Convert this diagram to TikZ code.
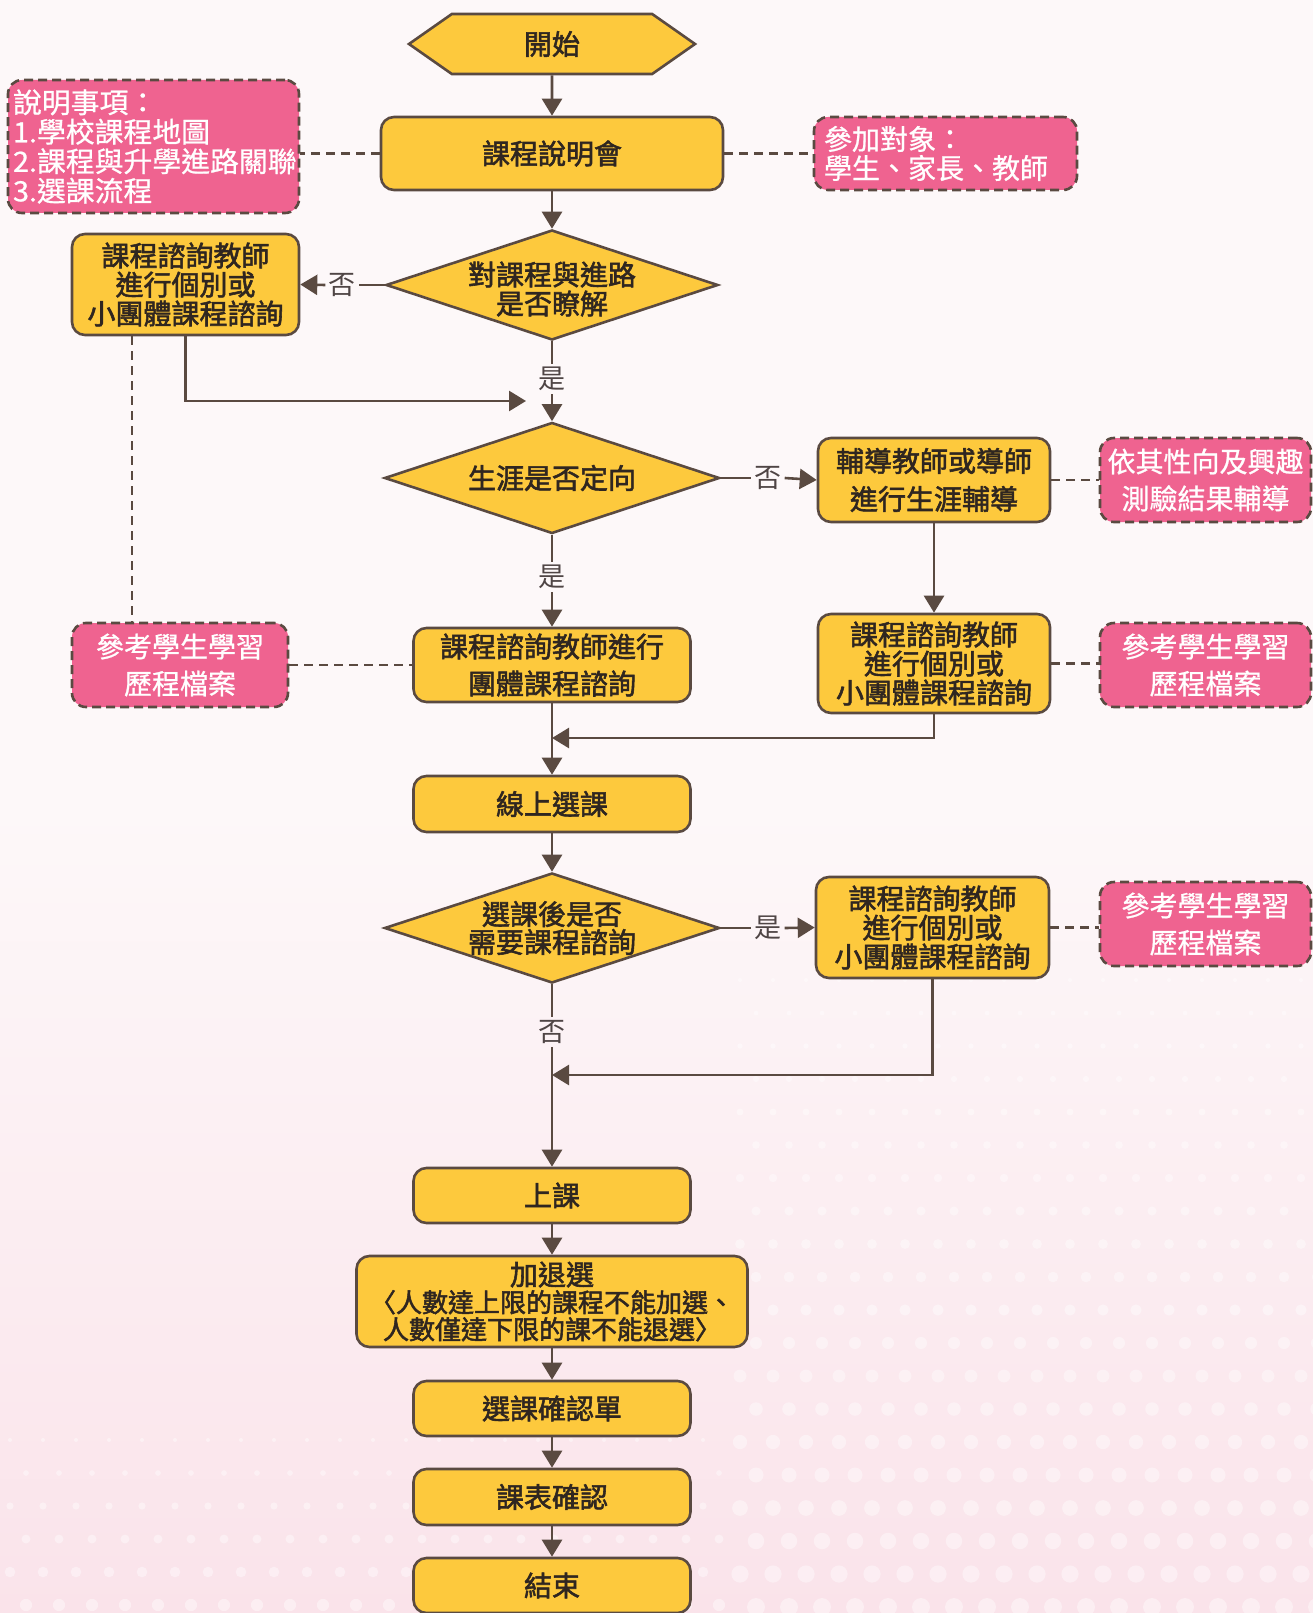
\documentclass[tikz,border=0pt]{standalone}
\usepackage{fontspec}
\setmainfont{Noto Sans CJK TC}[AutoFakeBold=2]
\newfontfamily\notefont{Noto Sans CJK TC}[FakeStretch=1.03,AutoFakeBold=0.8]
\newfontfamily\whitefont{Noto Sans CJK TC}[AutoFakeBold=0.8]
\usetikzlibrary{shapes.geometric,shapes.symbols,arrows.meta,calc}
\definecolor{ybox}{HTML}{FDC93D}
\definecolor{edgec}{HTML}{5A4A41}
\definecolor{pinkbox}{HTML}{EF6390}
\definecolor{txtc}{HTML}{2F2620}
\definecolor{lblc}{HTML}{4F4545}
\definecolor{bgA}{HTML}{F7CFDC}
\definecolor{bgB}{HTML}{FAE3EA}
\definecolor{bgC}{HTML}{FDF8F9}
\definecolor{bgD}{HTML}{FBE9EF}
\pgfdeclareverticalshading{bgshade}{100bp}{color(0bp)=(bgA); color(25bp)=(bgB); color(50bp)=(bgC); color(75bp)=(bgC); color(100bp)=(bgD)}
\tikzset{
  box/.style={draw=edgec, line width=2.6pt, fill=ybox, rounded corners=13pt,
    font=\fontsize{28}{29}\selectfont\bfseries, text=txtc, align=center, inner sep=0pt},
  notebox/.style={draw=edgec, line width=2.6pt, dash pattern=on 9pt off 5pt, fill=pinkbox,
    rounded corners=14pt, text=white, font=\whitefont\fontsize{28}{37}\selectfont\bfseries, align=center, inner sep=0pt},
  dia/.style={diamond, draw=edgec, line width=2.6pt, fill=ybox, inner sep=0pt},
  diatext/.style={font=\fontsize{28}{30}\selectfont\bfseries, text=txtc, align=center},
  arr/.style={draw=edgec, line width=2.6pt, -{Triangle[length=17pt,width=20pt]}},
  conn/.style={draw=edgec, line width=2.6pt},
  dline/.style={draw=edgec, line width=2.6pt, dash pattern=on 9pt off 6pt},
  lbl/.style={text=lblc, font=\fontsize{27}{27}\selectfont, inner sep=3pt},
  bgdot/.style={fill=white, opacity=0.4},
}
\begin{document}
\begin{tikzpicture}[x=1pt,y=-1pt]
\useasboundingbox (0,0) rectangle (1313,1613);
\shade[shading=bgshade] (0,0) rectangle (1313,1613);
% faint background dots
\foreach \i in {0,...,17} {
  \foreach \j in {0,...,19} {
    \pgfmathsetmacro{\dx}{740+\i*33+mod(\j,2)*16}
    \pgfmathsetmacro{\dy}{980+\j*33}
    \pgfmathsetmacro{\dr}{2+(\dy-980)/90}
    \fill[bgdot] (\dx,\dy) circle[radius=\dr];
  }
}
\foreach \i in {0,...,21} {
  \foreach \j in {0,...,5} {
    \pgfmathsetmacro{\dx}{10+\i*33+mod(\j,2)*16}
    \pgfmathsetmacro{\dy}{1440+\j*33}
    \pgfmathsetmacro{\dr}{2+(\dy-1440)/40}
    \fill[bgdot] (\dx,\dy) circle[radius=\dr];
  }
}

% start
\node[signal, signal to=west and east, signal pointer angle=70, draw=edgec, line width=2.6pt,
  fill=ybox, minimum width=286pt, minimum height=60pt, inner sep=0pt,
  font=\fontsize{28}{29}\selectfont\bfseries, text=txtc] (start) at (552,44) {開始};

\node[box, minimum width=342pt, minimum height=73pt] (a1) at (552,153.5) {課程說明會};

\node[notebox, minimum height=133pt, text width=281pt, inner xsep=5pt, align=left,
  font=\notefont\fontsize{28}{29.5}\selectfont\bfseries] (note1) at (153.5,146.5)
  {說明事項：\\1.學校課程地圖\\2.課程與升學進路關聯\\3.選課流程};

\node[notebox, minimum height=73pt, text width=243pt, inner xsep=10pt, align=left,
  font=\whitefont\fontsize{28}{29}\selectfont\bfseries] (note2) at (945.5,153.5)
  {參加對象：\\學生、家長、教師};

% decision 1
\node[dia, minimum width=332pt, minimum height=110pt] (d1) at (552,285) {};
\node[diatext, font=\fontsize{28}{29}\selectfont\bfseries] (d1t) at ([yshift=-4pt]d1.center) {對課程與進路\\是否瞭解};

\node[box, minimum width=227pt, minimum height=101pt] (b1) at (185.5,284.5)
  {課程諮詢教師\\進行個別或\\小團體課程諮詢};

\node[lbl] (no1) at (342,285) {否};
\node[lbl] (yes1) at (552,379) {是};
\coordinate (j1) at (526,401);

% decision 2
\node[dia, minimum width=335pt, minimum height=111pt] (d2) at (552,478) {};
\node[diatext] (d2t) at (d2.center) {生涯是否定向};

\node[box, minimum width=232pt, minimum height=84pt, font=\fontsize{28}{38}\selectfont\bfseries] (c1) at (934,480)
  {輔導教師或導師\\進行生涯輔導};
\node[lbl] (no2) at (768,478) {否};

\node[notebox, minimum width=211pt, minimum height=84pt] (note4) at (1205.5,480)
  {依其性向及興趣\\測驗結果輔導};

\node[box, minimum width=232pt, minimum height=99pt] (c2) at (934,663.5)
  {課程諮詢教師\\進行個別或\\小團體課程諮詢};
\node[notebox, minimum width=211pt, minimum height=84pt] (note5) at (1205.5,665)
  {參考學生學習\\歷程檔案};

\node[lbl] (yes2) at (552,577) {是};
\node[box, minimum width=277pt, minimum height=74pt, font=\fontsize{28}{37}\selectfont\bfseries] (b2) at (552,665)
  {課程諮詢教師進行\\團體課程諮詢};
\node[notebox, minimum width=216pt, minimum height=84pt] (note3) at (180,665)
  {參考學生學習\\歷程檔案};

\coordinate (j2) at (552,738);
\node[box, minimum width=277pt, minimum height=56pt] (b3) at (552,804) {線上選課};

% decision 3
\node[dia, minimum width=335pt, minimum height=110pt] (d3) at (552,928) {};
\node[diatext, font=\fontsize{28}{28}\selectfont\bfseries] (d3t) at (d3.center) {選課後是否\\需要課程諮詢};

\node[box, minimum width=233pt, minimum height=101pt] (c3) at (932.5,927.5)
  {課程諮詢教師\\進行個別或\\小團體課程諮詢};
\node[lbl] (yes3) at (768,928) {是};
\node[notebox, minimum width=211pt, minimum height=84pt] (note6) at (1205.5,924)
  {參考學生學習\\歷程檔案};

\node[lbl] (no3) at (552,1032) {否};
\coordinate (j3) at (552,1075);

\node[box, minimum width=277pt, minimum height=55pt] (b4) at (552,1195.5) {上課};
\node[box, minimum width=391pt, minimum height=91pt, font=\fontsize{26}{27}\selectfont\bfseries] (b5) at (552,1301.5)
  {{\fontsize{28}{28}\selectfont 加退選}\\〈人數達上限的課程不能加選、\\人數僅達下限的課不能退選〉};
\node[box, minimum width=277pt, minimum height=55pt] (b6) at (552,1408.5) {選課確認單};
\node[box, minimum width=277pt, minimum height=56pt] (b7) at (552,1497) {課表確認};
\node[box, minimum width=277pt, minimum height=55pt] (b8) at (552,1585.5) {結束};

% connectors
\draw[arr] (start) -- (a1);
\draw[arr] (a1) -- (d1);
\draw[dline] (a1.west) -- (a1.west -| note1.east);
\draw[dline] (a1.east) -- (a1.east -| note2.west);
\draw[conn] (d1.west) -- (no1.east);
\draw[arr] (no1.west) -- (b1.east);
\draw[conn] (d1.south) -- (yes1.north);
\draw[arr] (yes1.south) -- (d2.north);
\draw[arr] (b1.south) |- (j1);
\draw[dline] ([xshift=-53.5pt]b1.south) -- ([xshift=-53.5pt]b1.south |- note3.north);
\draw[conn] (d2.east) -- (no2.west);
\draw[arr] (no2.east) -- (c1.west);
\draw[dline] (c1.east) -- (c1.east -| note4.west);
\draw[arr] (c1) -- (c2);
\draw[dline] (c2.east) -- (c2.east -| note5.west);
\draw[conn] (d2.south) -- (yes2.north);
\draw[arr] (yes2.south) -- (b2.north);
\draw[dline] (note3.east) -- (note3.east -| b2.west);
\draw[arr] (b2) -- (b3);
\draw[arr] (c2.south) |- (j2);
\draw[arr] (b3) -- (d3);
\draw[conn] (d3.east) -- (yes3.west);
\draw[arr] (yes3.east) -- (c3.west);
\draw[dline] (c3.east) -- (c3.east -| note6.west);
\draw[conn] (d3.south) -- (no3.north);
\draw[arr] (no3.south) -- (b4.north);
\draw[arr] (c3.south) |- (j3);
\draw[arr] (b4) -- (b5);
\draw[arr] (b5) -- (b6);
\draw[arr] (b6) -- (b7);
\draw[arr] (b7) -- (b8);
\end{tikzpicture}
\end{document}
